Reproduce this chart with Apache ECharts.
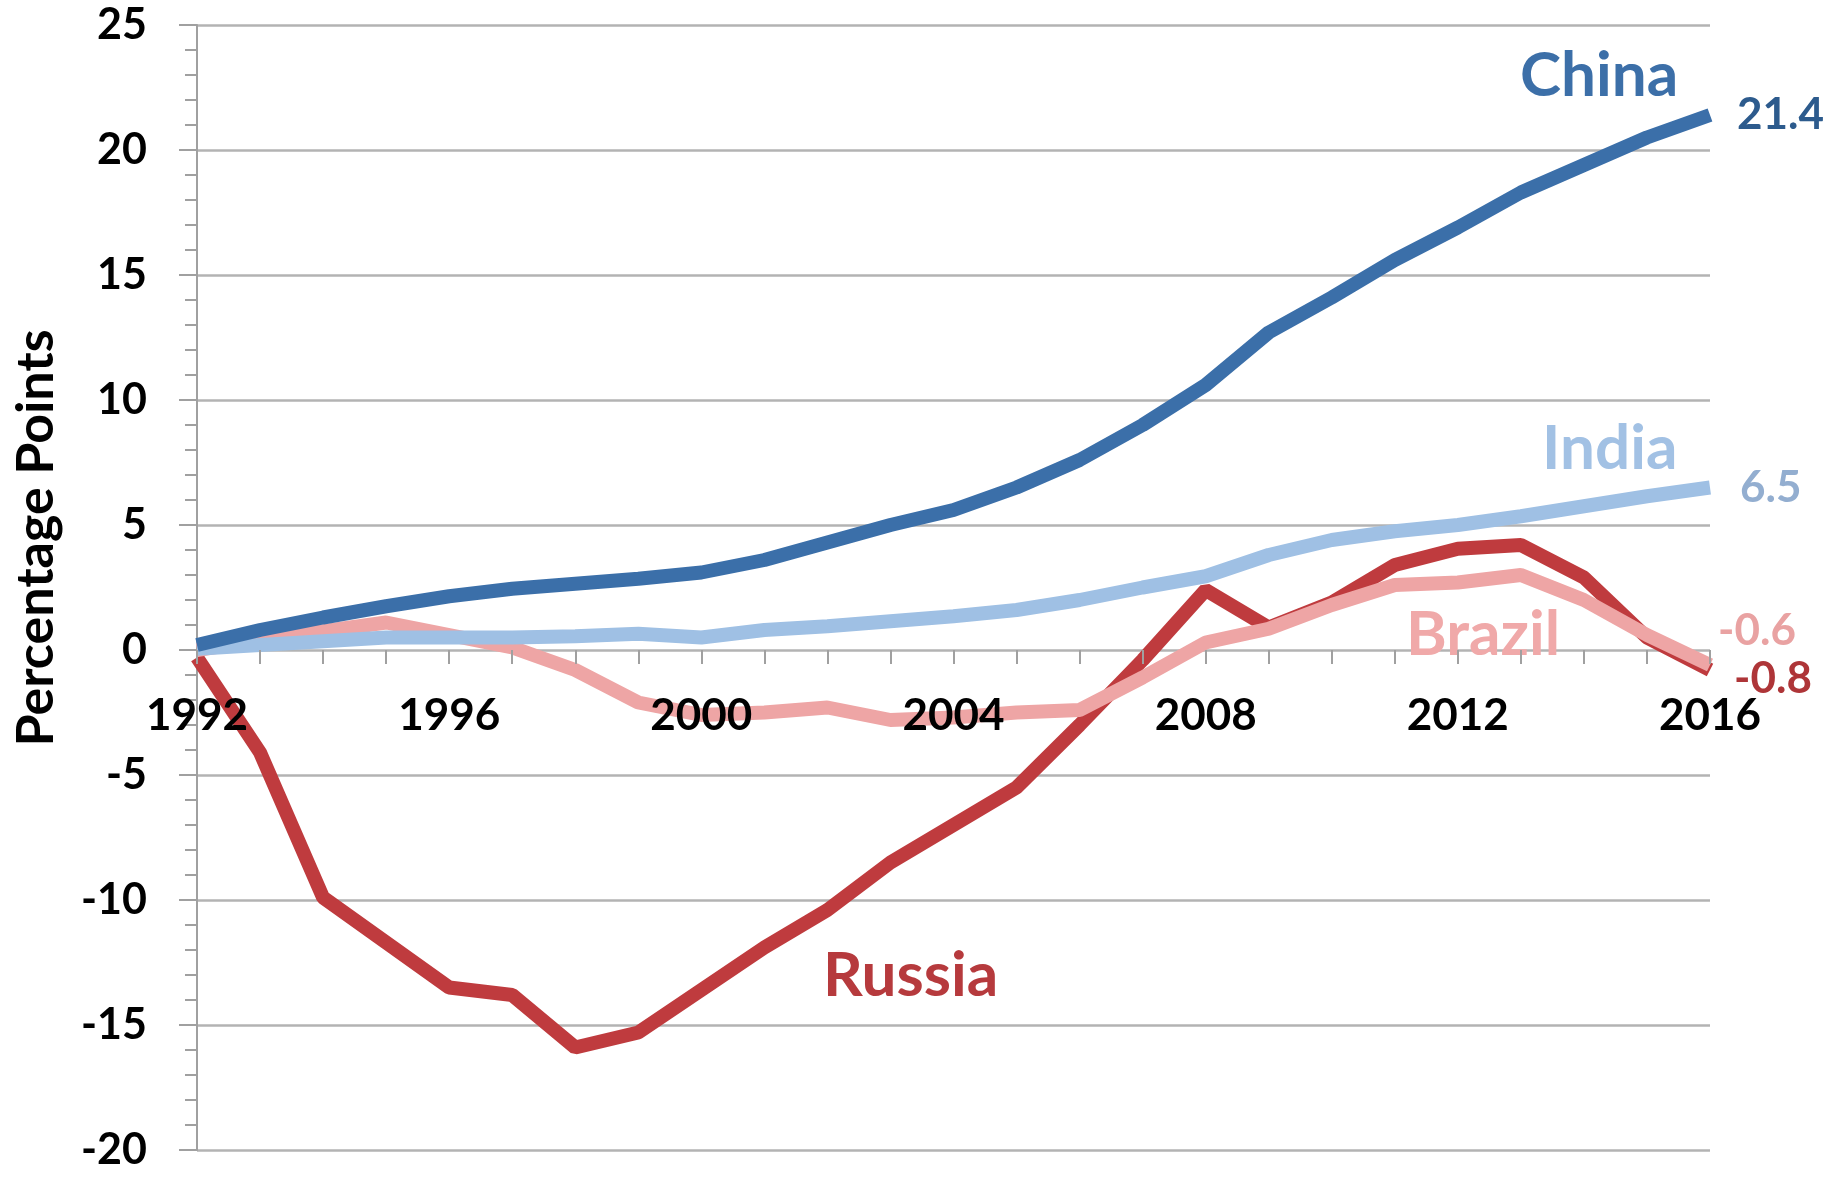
<!DOCTYPE html>
<html>
<head>
<meta charset="utf-8">
<script src="https://cdn.jsdelivr.net/npm/echarts@6/dist/echarts.min.js"></script>
<style>
html,body{margin:0;padding:0;background:#fff;}
#chart{width:1843px;height:1179px;}
</style>
</head>
<body>
<div id="chart"></div>
<script>
const years = [1992,1993,1994,1995,1996,1997,1998,1999,2000,2001,2002,2003,2004,2005,2006,2007,2008,2009,2010,2011,2012,2013,2014,2015,2016];
const xTickLabels = [1992,1996,2000,2004,2008,2012,2016];
const china  = [0.2,0.8,1.3,1.75,2.15,2.45,2.65,2.85,3.1,3.6,4.3,5.0,5.6,6.5,7.6,9.0,10.6,12.7,14.1,15.6,16.9,18.3,19.4,20.5,21.4];
const india  = [0.05,0.2,0.35,0.5,0.5,0.5,0.55,0.65,0.5,0.8,0.95,1.15,1.35,1.6,2.0,2.5,2.95,3.8,4.4,4.75,5.0,5.35,5.75,6.15,6.5];
const brazil = [0.0,0.4,0.75,1.1,0.6,0.1,-0.8,-2.1,-2.6,-2.5,-2.3,-2.8,-2.7,-2.5,-2.4,-1.1,0.3,0.85,1.8,2.6,2.7,3.0,2.0,0.6,-0.6];
const russia = [-0.3,-4.1,-9.9,-11.7,-13.5,-13.8,-15.9,-15.3,-13.6,-11.9,-10.4,-8.5,-7.0,-5.5,-3.0,-0.4,2.4,0.9,1.9,3.4,4.05,4.2,2.9,0.5,-0.8];

const FONT = 'Lato';
const Y_MIN = -20, Y_MAX = 25;
const GRID_TOP = 25, GRID_BOTTOM = 29, H = 1179;
function pairs(arr){ return years.map((y,i)=>[y,arr[i]]); }

// move the x axis (ticks, labels) up to the zero line
const gridH = H - GRID_TOP - GRID_BOTTOM;
const zeroOffset = -gridH * (0 - Y_MIN) / (Y_MAX - Y_MIN);

function makeSeries(name, arr, color, width, labelColor, endColor, nameCoord, endOffset, endDist){
  return {
    name: name,
    type: 'line',
    data: pairs(arr),
    showSymbol: false,
    symbol: 'none',
    lineStyle: {color: color, width: width},
    itemStyle: {color: color},
    endLabel: {
      show: true,
      formatter: p => String(p.value[1]),
      color: endColor,
      fontFamily: FONT,
      fontWeight: 'bold',
      fontSize: 44,
      distance: endDist,
      offset: endOffset
    },
    markPoint: {
      symbol: 'circle',
      symbolSize: 1,
      itemStyle: {color: 'transparent'},
      label: {
        show: true,
        position: 'inside',
        formatter: name,
        color: labelColor,
        fontFamily: FONT,
        fontWeight: 'bold',
        fontSize: 62
      },
      data: [{coord: nameCoord}]
    }
  };
}

const chart = echarts.init(document.getElementById('chart'));
chart.setOption({
  animation: false,
  backgroundColor: '#ffffff',
  grid: {left: 197, right: 133, top: GRID_TOP, bottom: GRID_BOTTOM, containLabel: false, outerBoundsMode: 'none'},
  xAxis: {
    type: 'value',
    position: 'bottom',
    offset: zeroOffset,
    z: 10,
    min: 1992, max: 2016, interval: 1,
    axisLine: {show: false, onZero: false},
    axisTick: {show: true, length: 14, lineStyle: {color: '#a0a0a0', width: 2}},
    axisLabel: {
      margin: 44,
      formatter: v => xTickLabels.indexOf(v) >= 0 ? String(v) : '',
      color: '#000', fontFamily: FONT, fontWeight: 'bold', fontSize: 44
    },
    splitLine: {show: false}
  },
  yAxis: {
    type: 'value',
    min: Y_MIN, max: Y_MAX, interval: 5,
    axisLine: {show: true, lineStyle: {color: '#a0a0a0', width: 2}},
    axisTick: {show: true, length: 18, lineStyle: {color: '#a0a0a0', width: 2}},
    minorTick: {show: true, splitNumber: 5, length: 12, lineStyle: {color: '#a0a0a0', width: 2}},
    minorSplitLine: {show: false},
    splitLine: {show: true, lineStyle: {color: '#b3b3b3', width: 2.5}},
    axisLabel: {margin: 50, color: '#000', fontFamily: FONT, fontWeight: 'bold', fontSize: 43}
  },
  graphic: [{
    type: 'text',
    x: 36, y: 538,
    rotation: Math.PI/2,
    style: {
      text: 'Percentage Points',
      fill: '#000',
      font: 'bold 52px Lato',
      align: 'center',
      verticalAlign: 'middle'
    }
  }],
  series: [
    makeSeries('Russia', russia, '#bf3b3e', 14, '#b63a3d', '#ae3538', [2003.32, -13.04], [0, 9], 24),
    makeSeries('Brazil', brazil, '#eea5a5', 14, '#f0a9a9', '#e9a2a2', [2012.4, 0.6], [-8, -34], 16),
    makeSeries('India',  india,  '#9fc0e4', 14, '#a2c1e4', '#93aed0', [2014.41, 8.04], [0, 0], 30),
    makeSeries('China',  china,  '#3b6fa9', 14, '#3c6fa8', '#2d5b8d', [2014.24, 22.96], [0, 0], 27)
  ]
});
</script>
</body>
</html>
